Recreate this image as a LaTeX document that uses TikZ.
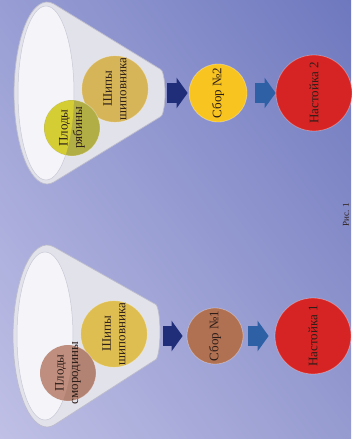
\documentclass[tikz,border=0pt]{standalone}
\usepackage{fontspec}
\setmainfont{Liberation Serif}
\usetikzlibrary{arrows.meta,shadings}
\definecolor{bgTL}{RGB}{152,158,212}
\definecolor{bgTR}{RGB}{110,120,190}
\definecolor{bgBL}{RGB}{192,192,230}
\definecolor{bgBR}{RGB}{150,155,208}
\definecolor{body}{RGB}{226,226,235}
\definecolor{rimline}{RGB}{188,188,204}
\definecolor{opening}{RGB}{244,244,249}
\definecolor{txt}{RGB}{45,30,25}
\definecolor{ryabD}{RGB}{178,174,70}
\definecolor{ryabL}{RGB}{212,206,52}
\definecolor{smorD}{RGB}{178,130,115}
\definecolor{smorL}{RGB}{192,142,126}
\definecolor{shipA}{RGB}{214,180,88}
\definecolor{shipB}{RGB}{222,190,80}
\definecolor{sborTwo}{RGB}{248,196,32}
\definecolor{sborOne}{RGB}{176,112,82}
\definecolor{tinct}{RGB}{214,36,36}
\definecolor{arrDark}{RGB}{32,46,122}
\definecolor{arrMid}{RGB}{46,96,166}
\begin{document}
\begin{tikzpicture}[x=1pt,y=-1pt,
  ball/.style={circle, inner sep=0pt, minimum size=#1, rotate=90,
    draw=white, draw opacity=0.3, line width=0.8pt,
    align=center, text=txt, font=\fontsize{13}{14.5}\selectfont},
  lbl/.style={rotate=90, align=center, text=txt, font=\fontsize{13}{14.5}\selectfont},
  blockarrow/.style={line width=20pt, -{Triangle[length=11pt,width=30pt]}},
  funnelbody/.style={fill=body, draw=rimline, line width=0.7pt},
  funnelopen/.style={fill=opening, draw=rimline!80, line width=0.5pt}]
\useasboundingbox (0,0) rectangle (351,439);
\shade[upper left=bgTL, upper right=bgTR, lower left=bgBL, lower right=bgBR]
  (0,0) rectangle (351,439);

% ---------- top funnel ----------
\path[funnelbody] (53.9,4) -- (160,69)
  arc[start angle=-90, end angle=90, x radius=5, y radius=24]
  -- (53.9,182)
  arc[start angle=78, end angle=282, x radius=33, y radius=91] -- cycle;
\path[funnelopen] (46,93) ellipse [x radius=28, y radius=87];
\coordinate (f2tip) at (167,93);

\node[ball=56pt, fill=shipA] (ship2) at (115,89) {Шипы\\шиповника};
\node[ball=56pt, fill=ryabD] (ryab) at (72,128) {};
\begin{scope}
  \clip (46,93) ellipse [x radius=28, y radius=87];
  \fill[ryabL] (ryab.center) circle [radius=27.6];
\end{scope}
\node[lbl] at (ryab) {Плоды\\рябины};

\node[ball=58pt, fill=sborTwo] (s2) at (218,93) {Сбор №2};
\node[ball=76pt, fill=tinct] (n2) at (314,93) {Настойка 2};
\draw[blockarrow, arrDark, shorten >=1pt] (f2tip) -- (s2);
\draw[blockarrow, arrMid, shorten <=8pt, shorten >=0pt] (s2) -- (n2);

% ---------- bottom funnel ----------
\path[funnelbody] (54.1,247) -- (155,304)
  arc[start angle=-90, end angle=90, x radius=5, y radius=28]
  -- (54.1,425)
  arc[start angle=78, end angle=282, x radius=34, y radius=91] -- cycle;
\path[funnelopen] (45,336) ellipse [x radius=28, y radius=84];
\coordinate (f1tip) at (163,336);

\node[ball=54pt, fill=shipB] (ship1) at (114,334) {Шипы\\шиповника};
\node[ball=56pt, fill=smorD] (smor) at (68,373) {};
\begin{scope}
  \clip (45,336) ellipse [x radius=28, y radius=84];
  \fill[smorL] (smor.center) circle [radius=27.6];
\end{scope}
\node[lbl] at (smor) {Плоды\\смородины};

\node[ball=56pt, fill=sborOne] (s1) at (215,336) {Сбор №1};
\node[ball=76pt, fill=tinct] (n1) at (313,336) {Настойка 1};
\draw[blockarrow, arrDark, shorten >=4pt] (f1tip) -- (s1);
\draw[blockarrow, arrMid, shorten <=5pt, shorten >=6pt] (s1) -- (n1);

\node[rotate=90, text=txt, font=\fontsize{9}{10}\selectfont] (fig) at (346,215) {Рис. 1};
\end{tikzpicture}
\end{document}
